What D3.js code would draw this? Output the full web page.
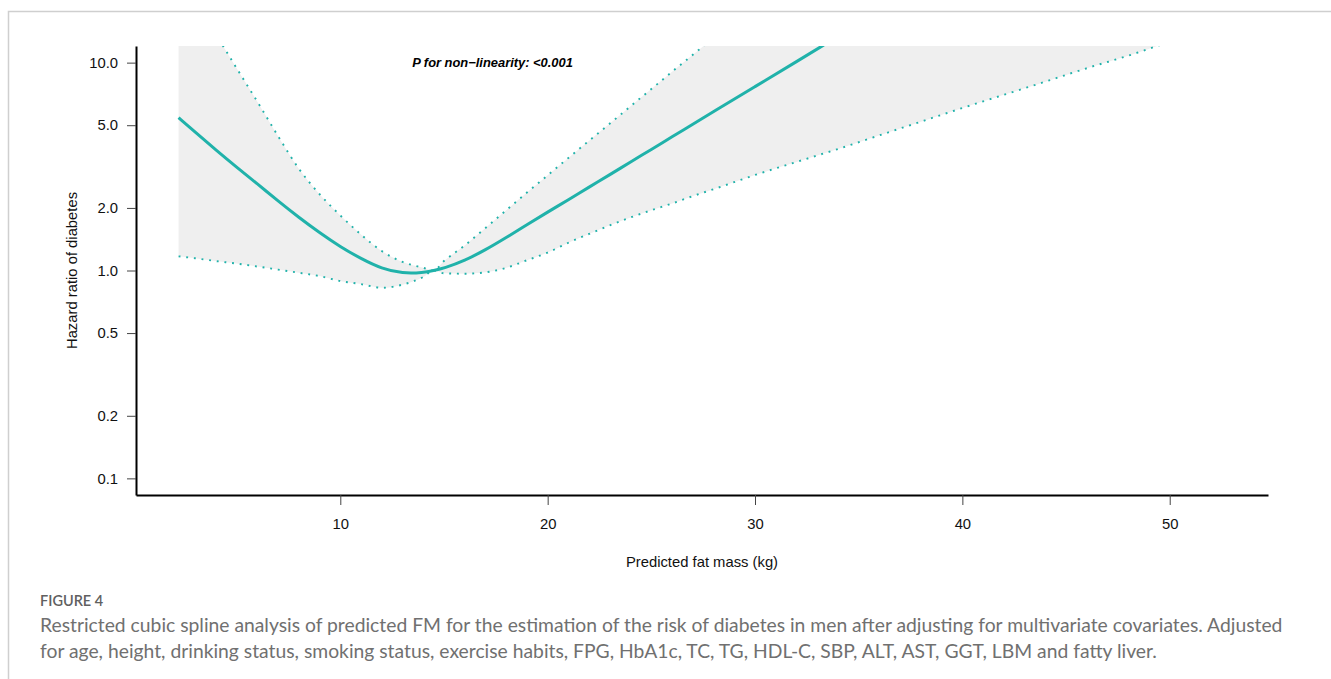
<!DOCTYPE html>
<html>
<head>
<meta charset="utf-8">
<script src="https://cdn.jsdelivr.net/npm/d3@7"></script>
<style>
  html, body { margin: 0; padding: 0; background: #fff; }
  svg { display: block; }
</style>
</head>
<body>
<svg id="chart" width="1331" height="679"></svg>
<script>
// predicted fat mass (kg) grid and spline estimates
const fatMass = [2.2, 3, 4, 5, 6, 7, 8, 9, 10, 11, 12, 13, 14, 14.5, 15, 16, 17, 18, 19, 20,
    21, 22, 23, 24, 25, 26, 27, 28, 30, 32, 34, 36, 38, 40, 42, 44, 46, 48, 50, 52];
const hazardRatio = [5.44, 4.63, 3.80, 3.14, 2.61, 2.16, 1.80, 1.52, 1.30, 1.14, 1.02, 0.968, 0.977, 1.0, 1.025, 1.115, 1.256, 1.44, 1.66, 1.91,
    2.19, 2.52, 2.89, 3.33, 3.82, 4.40, 5.05, 5.81, 7.67, 10.1, 13.4, 17.7, 23.2, 30.6, 40.3, 53, 70, 92, 121, 159];
const lowerCI = [1.17, 1.145, 1.11, 1.08, 1.045, 1.01, 0.975, 0.94, 0.89, 0.86, 0.826, 0.855, 0.931, 1.0, 0.97, 0.965, 0.98, 1.03, 1.12, 1.22,
    1.36, 1.5, 1.65, 1.8, 1.95, 2.1, 2.28, 2.46, 2.88, 3.33, 3.84, 4.47, 5.2, 6.05, 7.0, 8.1, 9.4, 10.8, 12.6, 14.6];
const upperCI = [27, 20, 13.7, 9.4, 6.49, 4.43, 3.09, 2.33, 1.84, 1.49, 1.24, 1.10, 1.03, 1.0, 1.11, 1.32, 1.60, 1.95, 2.37, 2.87,
    3.48, 4.21, 5.09, 6.17, 7.46, 9.04, 10.9, 13.2, 19.3, 28, 41, 60, 87, 127, 185, 270, 390, 570, 830, 1200];

const yTicks = [0.1, 0.2, 0.5, 1, 2, 5, 10];
const xTicks = [10, 20, 30, 40, 50];
const annotation = 'P for non\u2212linearity: <0.001';
const figureLabel = 'FIGURE 4';
const captionLines = [
    'Restricted cubic spline analysis of predicted FM for the estimation of the risk of diabetes in men after adjusting for multivariate covariates. Adjusted',
    'for age, height, drinking status, smoking status, exercise habits, FPG, HbA1c, TC, TG, HDL-C, SBP, ALT, AST, GGT, LBM and fatty liver.'
];

const teal = '#20b2aa';
const plotFont = '"Liberation Sans", Arial, sans-serif';

const svg = d3.select('#chart');
const plotLeft = 136, plotRight = 1268, plotTop = 46, plotBottom = 495;

const rows = fatMass.map((x, i) => ({ x, hr: hazardRatio[i], lo: lowerCI[i], hi: upperCI[i] }));

const x = d3.scaleLinear().domain([0.147, 54.74]).range([plotLeft, plotRight]);
const y = d3.scaleLog().domain([Math.pow(10, -1.08), Math.pow(10, 1.08)]).range([plotBottom, plotTop]);

// frame of the figure panel
svg.append('path')
    .attr('d', 'M8.5,679 V11.5 H1331')
    .attr('fill', 'none')
    .attr('stroke', '#cfcfcf')
    .attr('stroke-width', 1.5);

svg.append('clipPath').attr('id', 'plot-clip')
    .append('rect')
    .attr('x', plotLeft).attr('y', plotTop)
    .attr('width', plotRight - plotLeft).attr('height', plotBottom - plotTop);

const plot = svg.append('g').attr('clip-path', 'url(#plot-clip)');

plot.append('path')
    .datum(rows)
    .attr('fill', '#efefef')
    .attr('d', d3.area()
        .x(d => x(d.x))
        .y0(d => y(d.lo))
        .y1(d => y(d.hi))
        .curve(d3.curveMonotoneX));

['lo', 'hi'].forEach(key => {
    plot.append('path')
        .datum(rows)
        .attr('fill', 'none')
        .attr('stroke', teal)
        .attr('stroke-width', 1.9)
        .attr('stroke-dasharray', '1.9 5.8')
        .attr('d', d3.line()
            .x(d => x(d.x))
            .y(d => y(d[key]))
            .curve(d3.curveMonotoneX));
});

plot.append('path')
    .datum(rows)
    .attr('fill', 'none')
    .attr('stroke', teal)
    .attr('stroke-width', 3)
    .attr('d', d3.line()
        .x(d => x(d.x))
        .y(d => y(d.hr))
        .curve(d3.curveBasis));

// axes
const yAxis = svg.append('g')
    .attr('transform', `translate(${plotLeft},0)`)
    .call(d3.axisLeft(y).tickValues(yTicks).tickSize(9).tickSizeOuter(0).tickPadding(9)
        .tickFormat(d3.format('.1f')));

const xAxis = svg.append('g')
    .attr('transform', `translate(0,${plotBottom})`)
    .call(d3.axisBottom(x).tickValues(xTicks).tickSize(10).tickSizeOuter(0).tickPadding(13)
        .tickFormat(d3.format('d')));

[yAxis, xAxis].forEach(g => {
    g.select('.domain').attr('stroke', '#000').attr('stroke-width', 2);
    g.selectAll('.tick line').attr('stroke', '#444').attr('stroke-width', 1);
    g.selectAll('.tick text')
        .attr('fill', '#111')
        .style('font-family', plotFont)
        .style('font-size', '14.8px');
});

svg.append('text')
    .attr('x', (plotLeft + plotRight) / 2)
    .attr('y', 567)
    .attr('text-anchor', 'middle')
    .attr('fill', '#111')
    .style('font-family', plotFont)
    .style('font-size', '14.8px')
    .text('Predicted fat mass (kg)');

svg.append('text')
    .attr('transform', `translate(77,${(plotTop + plotBottom) / 2}) rotate(-90)`)
    .attr('text-anchor', 'middle')
    .attr('fill', '#111')
    .style('font-family', plotFont)
    .style('font-size', '14.8px')
    .text('Hazard ratio of diabetes');

svg.append('text')
    .attr('x', 492.5)
    .attr('y', 67)
    .attr('text-anchor', 'middle')
    .attr('fill', '#000')
    .style('font-family', plotFont)
    .style('font-size', '12.9px')
    .style('font-weight', 'bold')
    .style('font-style', 'italic')
    .text(annotation);

// caption
svg.append('text')
    .attr('x', 40)
    .attr('y', 606)
    .attr('fill', '#606060')
    .style('font-family', 'Lato, sans-serif')
    .style('font-size', '14.5px')
    .style('font-weight', 600)
    .text(figureLabel);

const captionWidth = 1243;
const caption = svg.selectAll('text.caption')
    .data(captionLines)
    .join('text')
    .attr('class', 'caption')
    .attr('x', 40)
    .attr('y', (d, i) => 632 + i * 26)
    .attr('fill', '#707070')
    .style('font-family', 'Lato, sans-serif')
    .style('font-size', '17px')
    .text(d => d);

// fit the first caption line to its width in the figure and reuse that size
const firstLen = caption.node().getComputedTextLength();
caption.style('font-size', (17 * captionWidth / firstLen) + 'px');
</script>
</body>
</html>
